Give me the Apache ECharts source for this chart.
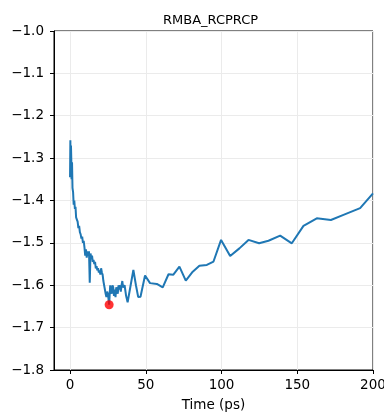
<!DOCTYPE html>
<html>
<head>
<meta charset="utf-8">
<script src="https://cdn.jsdelivr.net/npm/echarts@6/dist/echarts.min.js"></script>
<style>
  html, body { margin: 0; padding: 0; background: #fff; }
  #chart { width: 384px; height: 415px; }
</style>
</head>
<body>
<div id="chart"></div>
<script>
// Trajectory energy over simulation time
const timePs = [0, 0.2, 0.4, 0.6, 0.8, 1.0, 1.3, 1.6, 2.0, 2.4, 2.8, 3.2, 3.6, 4.0, 4.5, 5.0, 5.5, 6.0, 6.5, 7.0,
  7.5, 8.0, 8.5, 9.0, 9.5, 10.0, 10.5, 11.0, 11.5, 12.0, 12.5, 13.0, 13.5, 14.0, 14.5, 15.0, 15.5, 16.0, 16.5, 17.0,
  17.5, 18.0, 18.5, 19.0, 19.5, 20.0, 20.5, 21.0, 21.5, 22.0, 22.5, 23.0, 23.5, 24.0, 24.5, 25.0, 25.8, 26.5, 27.0, 27.5,
  28.0, 28.5, 29.0, 29.5, 30.0, 30.5, 31.0, 31.5, 32.0, 32.5, 33.0, 33.5, 34.0, 34.5, 35.0, 36.0, 37.0, 38.0, 39.0, 40.0,
  41.8, 43.5, 45.0, 46.5, 49.5, 52.8, 57.3, 61.2, 65.0, 68.2, 72.2, 76.4, 81.0, 85.4, 90.3, 94.7, 99.7, 105.7, 111.8, 117.8,
  124.8, 131.0, 138.7, 146.4, 154.1, 162.9, 172.2, 180.5, 191.5, 200.0];
const energy = [-1.345, -1.258, -1.33, -1.27, -1.30, -1.35, -1.31, -1.37, -1.38, -1.41, -1.40, -1.42, -1.415, -1.44, -1.445, -1.45, -1.465, -1.46, -1.475, -1.48,
  -1.49, -1.485, -1.50, -1.495, -1.51, -1.53, -1.515, -1.535, -1.52, -1.53, -1.52, -1.594, -1.525, -1.535, -1.53, -1.545, -1.54, -1.55, -1.545, -1.56,
  -1.555, -1.565, -1.56, -1.57, -1.565, -1.575, -1.56, -1.57, -1.575, -1.59, -1.60, -1.61, -1.62, -1.628, -1.615, -1.62, -1.646, -1.60, -1.615, -1.62,
  -1.60, -1.605, -1.625, -1.61, -1.628, -1.605, -1.61, -1.62, -1.60, -1.61, -1.60, -1.615, -1.60, -1.59, -1.605, -1.60, -1.625, -1.64, -1.62, -1.60,
  -1.564, -1.60, -1.628, -1.627, -1.577, -1.595, -1.597, -1.605, -1.574, -1.575, -1.556, -1.589, -1.568, -1.554, -1.552, -1.544, -1.493, -1.531, -1.513, -1.493,
  -1.501, -1.495, -1.483, -1.501, -1.46, -1.442, -1.446, -1.434, -1.418, -1.383];

// Lowest-energy frame
const minTime = [25.8];
const minEnergy = [-1.646];

const xTicks = [0, 50, 100, 150, 200];

const FONT = 'DejaVu Sans';
const fmtY = v => v.toFixed(1).replace('-', '\u2212');

const chart = echarts.init(document.getElementById('chart'), null, { renderer: 'canvas' });
chart.setOption({
  animation: false,
  backgroundColor: '#fff',
  title: {
    text: 'RMBA_RCPRCP',
    left: 158,
    top: 9,
    textStyle: { fontFamily: FONT, fontSize: 13, fontWeight: 'normal', color: '#000' }
  },
  grid: {
    left: 54, right: 11, top: 31, bottom: 45,
    containLabel: false,
    outerBoundsMode: 'none',
    show: true, borderColor: '#000', borderWidth: 1, backgroundColor: 'transparent'
  },
  xAxis: {
    type: 'value',
    min: -10.6,
    max: 200,
    name: 'Time (ps)',
    nameLocation: 'middle',
    nameGap: 28,
    nameTextStyle: { fontFamily: FONT, fontSize: 13.5, color: '#000' },
    axisLine: { show: true, onZero: false, lineStyle: { color: '#000', width: 1 } },
    axisTick: { show: true, length: 4, lineStyle: { color: '#000' }, customValues: xTicks },
    axisLabel: {
      fontFamily: FONT, fontSize: 13.5, color: '#000', margin: 8,
      customValues: xTicks, formatter: v => String(v)
    },
    splitLine: { show: true, lineStyle: { color: '#ebebeb', width: 1 } }
  },
  yAxis: {
    type: 'value',
    min: -1.8,
    max: -1.0,
    interval: 0.1,
    axisLine: { show: true, onZero: false, lineStyle: { color: '#000', width: 1 } },
    axisTick: { show: true, length: 4, lineStyle: { color: '#000' } },
    axisLabel: { fontFamily: FONT, fontSize: 13.5, color: '#000', margin: 10, formatter: fmtY },
    splitLine: { show: true, lineStyle: { color: '#ebebeb', width: 1 } }
  },
  series: [
    {
      type: 'line',
      data: timePs.map((t, i) => [t, energy[i]]),
      showSymbol: false,
      lineStyle: { color: '#1f77b4', width: 2 },
      itemStyle: { color: '#1f77b4' },
      z: 2
    },
    {
      type: 'scatter',
      data: minTime.map((t, i) => [t, minEnergy[i]]),
      symbolSize: 9,
      itemStyle: { color: '#ff0000' },
      z: 3
    }
  ]
});
</script>
</body>
</html>
